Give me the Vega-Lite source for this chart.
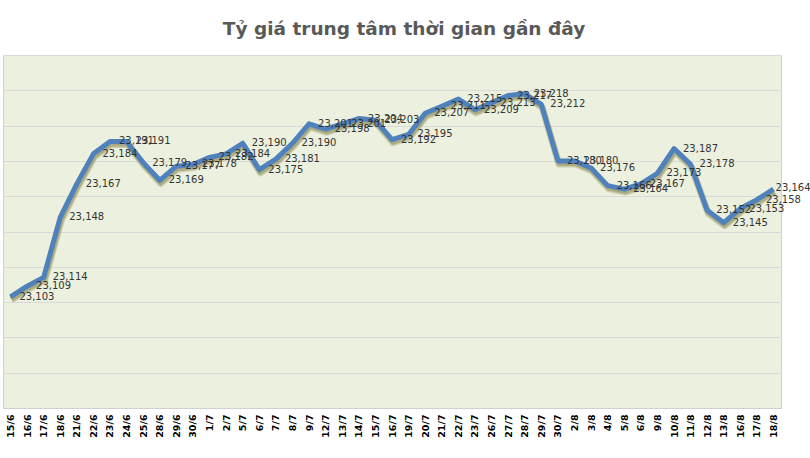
{
  "$schema": "https://vega.github.io/schema/vega-lite/v6.json",
  "width": 778,
  "height": 353,
  "autosize": {"type": "none"},
  "padding": {"left": 3, "top": 55, "right": 29, "bottom": 50},
  "background": "#ffffff",
  "title": {
    "text": "Tỷ giá trung tâm thời gian gần đây",
    "font": "DejaVu Sans",
    "fontSize": 18.5,
    "fontWeight": "bold",
    "color": "#595959",
    "anchor": "middle",
    "offset": 17,
    "dx": 12
  },
  "config": {"view": {"fill": "#EBF1DE", "stroke": "#D0D0D0"}},
  "data": {
    "values": [
      {"date": "15/6", "rate": 23103},
      {"date": "16/6", "rate": 23109},
      {"date": "17/6", "rate": 23114},
      {"date": "18/6", "rate": 23148},
      {"date": "21/6", "rate": 23167},
      {"date": "22/6", "rate": 23184},
      {"date": "23/6", "rate": 23191},
      {"date": "24/6", "rate": 23191},
      {"date": "25/6", "rate": 23179},
      {"date": "28/6", "rate": 23169},
      {"date": "29/6", "rate": 23177},
      {"date": "30/6", "rate": 23178},
      {"date": "1/7", "rate": 23182},
      {"date": "2/7", "rate": 23184},
      {"date": "5/7", "rate": 23190},
      {"date": "6/7", "rate": 23175},
      {"date": "7/7", "rate": 23181},
      {"date": "8/7", "rate": 23190},
      {"date": "9/7", "rate": 23201},
      {"date": "12/7", "rate": 23198},
      {"date": "13/7", "rate": 23201},
      {"date": "14/7", "rate": 23204},
      {"date": "15/7", "rate": 23203},
      {"date": "16/7", "rate": 23192},
      {"date": "19/7", "rate": 23195},
      {"date": "20/7", "rate": 23207},
      {"date": "21/7", "rate": 23211},
      {"date": "22/7", "rate": 23215},
      {"date": "23/7", "rate": 23209},
      {"date": "26/7", "rate": 23213},
      {"date": "27/7", "rate": 23217},
      {"date": "28/7", "rate": 23218},
      {"date": "29/7", "rate": 23212},
      {"date": "30/7", "rate": 23180},
      {"date": "2/8", "rate": 23180},
      {"date": "3/8", "rate": 23176},
      {"date": "4/8", "rate": 23166},
      {"date": "5/8", "rate": 23164},
      {"date": "6/8", "rate": 23167},
      {"date": "9/8", "rate": 23173},
      {"date": "10/8", "rate": 23187},
      {"date": "11/8", "rate": 23178},
      {"date": "12/8", "rate": 23152},
      {"date": "13/8", "rate": 23145},
      {"date": "16/8", "rate": 23153},
      {"date": "17/8", "rate": 23158},
      {"date": "18/8", "rate": 23164}
    ]
  },
  "encoding": {
    "x": {
      "field": "date",
      "type": "ordinal",
      "sort": null,
      "scale": {"type": "point", "padding": 0.45},
      "axis": {
        "title": null,
        "labelAngle": -90,
        "labelFont": "DejaVu Sans",
        "labelFontSize": 9.5,
        "labelFontWeight": "bold",
        "labelColor": "#000000",
        "labelPadding": 6,
        "ticks": false,
        "grid": false,
        "domain": true,
        "domainColor": "#D0D0D0"
      }
    },
    "y": {
      "field": "rate",
      "type": "quantitative",
      "scale": {"domain": [23040, 23240], "nice": false, "zero": false},
      "axis": {
        "title": null,
        "labels": false,
        "ticks": false,
        "domain": false,
        "grid": true,
        "gridColor": "#D9D9D9",
        "values": [23040, 23060, 23080, 23100, 23120, 23140, 23160, 23180, 23200, 23220, 23240]
      }
    }
  },
  "layer": [
    {
      "mark": {"type": "line", "color": "#9A9660", "opacity": 0.4, "strokeWidth": 7, "yOffset": 3, "xOffset": 1, "strokeJoin": "round"}
    },
    {
      "mark": {"type": "line", "color": "#8C8A5A", "opacity": 0.5, "strokeWidth": 5, "yOffset": 2.5, "xOffset": 1, "strokeJoin": "round"}
    },
    {
      "mark": {"type": "line", "color": "#4F81BD", "strokeWidth": 5, "strokeJoin": "round"}
    },
    {
      "transform": [{"filter": "datum.date !== '18/8'"}],
      "mark": {"type": "text", "align": "left", "baseline": "middle", "dx": 9, "font": "DejaVu Sans", "fontSize": 10, "color": "#333333"},
      "encoding": {"text": {"field": "rate", "type": "quantitative", "format": ","}}
    },
    {
      "transform": [{"filter": "datum.date === '18/8'"}],
      "mark": {"type": "text", "align": "left", "baseline": "middle", "dx": 2, "dy": -1, "font": "DejaVu Sans", "fontSize": 10, "color": "#333333"},
      "encoding": {"text": {"field": "rate", "type": "quantitative", "format": ","}}
    }
  ]
}
